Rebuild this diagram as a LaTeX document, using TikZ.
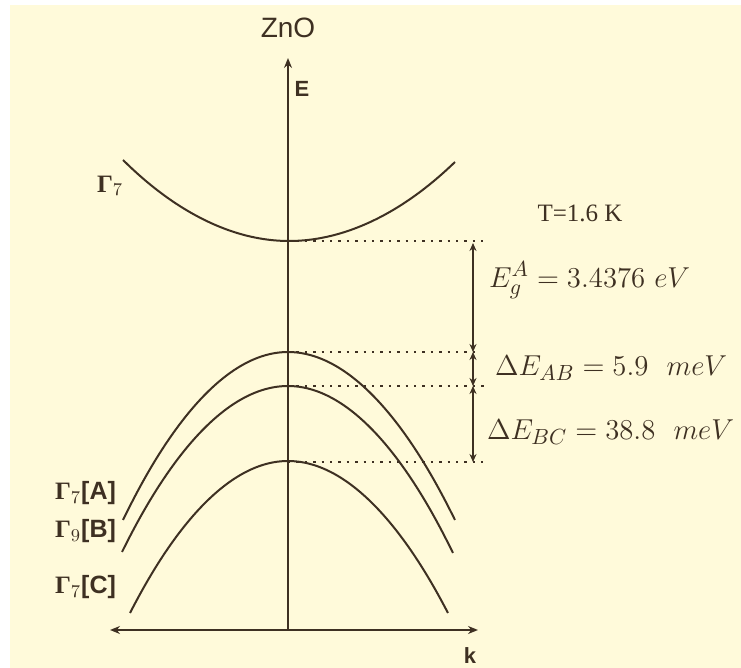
\documentclass[tikz,border=0pt]{standalone}
\usepackage{fontspec}
\setsansfont{Liberation Sans}
\newfontfamily\timesfont{Liberation Serif}
\usetikzlibrary{arrows.meta}
\definecolor{cream}{RGB}{255,250,218}
\definecolor{ink}{RGB}{62,48,34}
\newcommand{\gam}[2]{{\timesfont\bfseries Γ}$_{#1}$\textsf{#2}}
\tikzset{
  band/.style={ink, line width=1pt},
  axis/.style={ink, line width=1pt, >={Stealth[length=5pt,width=4pt]}},
  guide/.style={ink, line width=0.6pt, dash pattern=on 1.2pt off 3pt},
  gap/.style={<->, ink, line width=1pt, >={Stealth[length=4pt,width=3.5pt]}},
  gamma/.style={ink, anchor=west, font=\fontsize{12.5}{12.5}\selectfont\bfseries},
  eqn/.style={ink, anchor=west, font=\fontsize{15}{15}\selectfont},
}
\begin{document}
\begin{tikzpicture}[x=0.5pt, y=-0.5pt]
    \useasboundingbox (0,0) rectangle (741,668);
    \fill[cream] (10,5) rectangle (741,668);

    % axes
    \coordinate (origin) at (288,630);
    \coordinate (etip) at (288,58);
    \coordinate (kleft) at (110,630);
    \coordinate (kright) at (478,630);
    \draw[axis,->] (origin) -- (etip);
    \draw[axis,<->] (kleft) -- (kright);
    \node[ink, font=\fontsize{14}{14}\selectfont\sffamily] (title) at (288,28) {ZnO};
    \node[ink, font=\fontsize{11}{11}\selectfont\sffamily\bfseries] (elabel) at (302,89) {E};
    \node[ink, font=\fontsize{11}{11}\selectfont\sffamily\bfseries] (klabel) at (470,656) {k};

    % bands
    \draw[band] (123,160) parabola bend (289,241) (455,162);
    \draw[band] (123,520) parabola bend (288,352) (455,520);
    \draw[band] (122,552) parabola bend (288,386) (453,553);
    \draw[band] (130,613) parabola bend (288,461) (448,613);

    \node[gamma] (g7c) at (90,186) {\gam{7}{}};
    \node[gamma] (g7a) at (48,493) {\gam{7}{[A]}};
    \node[gamma] (g9b) at (48,531) {\gam{9}{[B]}};
    \node[gamma] (g7cc) at (48,587) {\gam{7}{[C]}};

    % levels
    \coordinate (cbtop) at (288,241);
    \coordinate (atop) at (288,352);
    \coordinate (btop) at (288,386);
    \coordinate (ctop) at (288,462);
    \coordinate (cbend) at (483,241);
    \coordinate (aend) at (480,352);
    \coordinate (bend) at (488,386);
    \coordinate (cend) at (483,462);
    \draw[guide] (cbtop) -- (cbend);
    \draw[guide] (atop) -- (aend);
    \draw[guide] (btop) -- (bend);
    \draw[guide] (ctop) -- (cend);

    \coordinate (lcb) at (473,243);
    \coordinate (la) at (473,352);
    \coordinate (lb) at (473,386);
    \coordinate (lc) at (473,462);
    \draw[gap] (lcb) -- (la);
    \draw[gap] (la) -- (lb);
    \draw[gap] (lb) -- (lc);

    \node[ink, font=\fontsize{12.5}{12.5}\selectfont\timesfont] (temp) at (580,213) {T=1.6 K};
    \node[eqn] (eg) at (482,280) {$E_g^A = 3.4376\ eV$};
    \node[eqn] (dab) at (488,368) {$\Delta E_{AB} = 5.9\ \ meV$};
    \node[eqn] (dbc) at (480,432) {$\Delta E_{BC} = 38.8\ \ meV$};
\end{tikzpicture}
\end{document}
